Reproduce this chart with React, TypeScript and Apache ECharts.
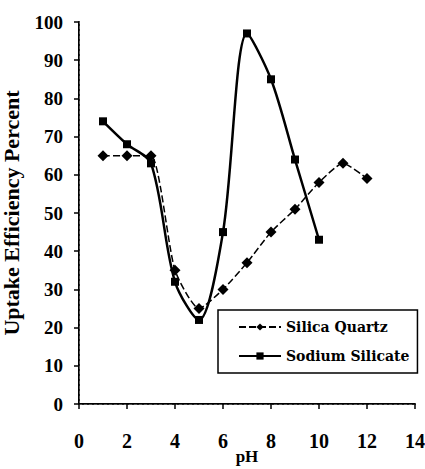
import React, { useEffect, useRef } from "react";
import * as echarts from "echarts";

const phValues = [1, 2, 3, 4, 5, 6, 7, 8, 9, 10, 11, 12];
const silicaQuartz = [65, 65, 65, 35, 25, 30, 37, 45, 51, 58, 63, 59];
const sodiumPh = [1, 2, 3, 4, 5, 6, 7, 8, 9, 10];
const sodiumSilicate = [74, 68, 63, 32, 22, 45, 97, 85, 64, 43];
const xTicks = [0, 2, 4, 6, 8, 10, 12, 14];
const yTicks = [0, 10, 20, 30, 40, 50, 60, 70, 80, 90, 100];

const serif = "Liberation Serif";

export default function App() {
  const ref = useRef<HTMLDivElement>(null);
  useEffect(() => {
    if (!ref.current) return;
    const chart = echarts.init(ref.current, null, { renderer: "svg" });
    const q = phValues.map((x, i) => [x, silicaQuartz[i]]);
    const s = sodiumPh.map((x, i) => [x, sodiumSilicate[i]]);
    chart.setOption({
      animation: false,
      backgroundColor: "#fff",
      grid: { left: 79, right: 10, top: 22, bottom: 65, outerBoundsMode: "none", containLabel: false },
      legend: {
        orient: "vertical",
        left: 218,
        top: 310,
        width: 196,
        padding: [10, 8, 10, 20],
        itemGap: 15,
        itemWidth: 42,
        itemHeight: 9,
        backgroundColor: "#fff",
        borderColor: "#000",
        borderWidth: 1.5,
        textStyle: { fontFamily: "DejaVu Serif", fontWeight: "bold", fontSize: 14, color: "#000" },
        data: ["Silica Quartz", "Sodium Silicate"],
      },
      xAxis: [
        {
          type: "value",
          min: 0,
          max: 14,
          interval: 2,
          name: "pH",
          nameLocation: "middle",
          nameGap: 44,
          nameMoveOverlap: false,
          nameTextStyle: { fontFamily: serif, fontWeight: "bold", fontSize: 17, color: "#000" },
          axisLine: { lineStyle: { color: "#000", width: 2 } },
          axisTick: { show: true, length: 5, lineStyle: { color: "#000", width: 1.5 } },
          axisLabel: {
            margin: 27,
            fontFamily: serif,
            fontWeight: "bold",
            fontSize: 20,
            color: "#000",
            customValues: xTicks,
          },
          splitLine: { show: false },
        },
        {
          type: "value",
          position: "top",
          min: 0,
          max: 14,
          axisLine: { show: true, lineStyle: { color: "#555", width: 1, type: [3, 2] } },
          axisTick: { show: false },
          axisLabel: { show: false },
          splitLine: { show: false },
        },
      ],
      yAxis: [
        {
          type: "value",
          min: 0,
          max: 100,
          interval: 10,
          name: "Uptake Efficiency Percent",
          nameLocation: "middle",
          nameGap: 57,
          nameMoveOverlap: false,
          nameTextStyle: { fontFamily: serif, fontWeight: "bold", fontSize: 22, color: "#000" },
          axisLine: { show: true, lineStyle: { color: "#000", width: 2 } },
          axisTick: { show: true, length: 5, lineStyle: { color: "#000", width: 1.5 } },
          axisLabel: {
            margin: 16,
            fontFamily: serif,
            fontWeight: "bold",
            fontSize: 19,
            color: "#000",
            customValues: yTicks,
          },
          splitLine: { show: false },
        },
        {
          type: "value",
          position: "right",
          min: 0,
          max: 100,
          axisLine: { show: true, lineStyle: { color: "#555", width: 1, type: [3, 2] } },
          axisTick: { show: false },
          axisLabel: { show: false },
          splitLine: { show: false },
        },
      ],
      series: [
        {
          name: "Silica Quartz",
          type: "line",
          data: q,
          smooth: 0.2,
          symbol: "diamond",
          symbolSize: 11,
          itemStyle: { color: "#000" },
          lineStyle: { color: "#000", width: 1.5, type: [7, 3] },
        },
        {
          name: "Sodium Silicate",
          type: "line",
          data: s,
          smooth: 0.3,
          symbol: "rect",
          symbolSize: 8,
          itemStyle: { color: "#000" },
          lineStyle: { color: "#000", width: 2.5 },
        },
      ],
    });
    return () => chart.dispose();
  }, []);
  return <div ref={ref} style={{ position: "absolute", left: 0, top: 0, width: 425, height: 469 }} />;
}
